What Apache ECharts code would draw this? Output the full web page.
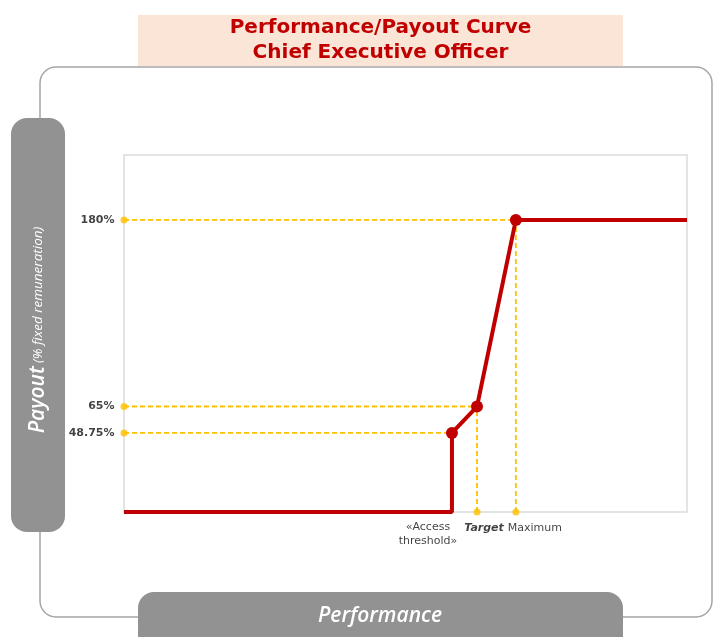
<!DOCTYPE html>
<html>
<head>
<meta charset="utf-8">
<script src="https://cdn.jsdelivr.net/npm/echarts@6/dist/echarts.min.js"></script>
<style>
  html, body { margin: 0; padding: 0; background: #fff; }
  #chart { width: 713px; height: 637px; }
</style>
</head>
<body>
<div id="chart"></div>
<script>
// Payout curve: performance (0-100 scale) against payout (% of fixed remuneration)
const perfPoints   = [0, 58.25, 58.25, 62.7, 69.6, 100];
const payoutPoints = [0, 0, 48.75, 65, 180, 180];
// Points on the curve that get a marker (index into the arrays above)
const keyPointIdx = [2, 3, 4];

// Payout levels labelled on the vertical axis
const payoutLevels = [180, 65, 48.75];
const payoutLabels = ['180%', '65%', '48.75%'];
// Performance at which each payout level is reached
const levelPerf = [69.6, 62.7, 58.25];

// Performance milestones labelled under the horizontal axis
const milestoneNames = ['«Access\nthreshold»', 'Target', 'Maximum'];
const milestonePerf  = [58.25, 62.7, 69.6];
const milestonePayout = [48.75, 65, 180];

const RED = '#c00000';
const GOLD = '#ffc000';
const PILL = '#929292';

const chart = echarts.init(document.getElementById('chart'), null, { renderer: 'canvas' });

const curveData = perfPoints.map((x, i) => {
  const marked = keyPointIdx.includes(i);
  return { value: [x, payoutPoints[i]], symbol: marked ? 'circle' : 'none', symbolSize: marked ? 12 : 0 };
});

const dashStyle = { color: GOLD, width: 1.8, type: [5, 3] };

// Horizontal guides from the axis to the curve
const hGuides = payoutLevels.map((v, i) => ({
  type: 'line', silent: true, z: 3, symbol: 'none',
  lineStyle: dashStyle,
  data: [[0, v], [levelPerf[i], v]]
}));

// Vertical guides from the curve down to the axis (target and maximum)
const vGuides = milestonePerf.slice(1).map((x, i) => ({
  type: 'line', silent: true, z: 3, symbol: 'none',
  lineStyle: dashStyle,
  data: [[x, 0], [x, milestonePayout[i + 1]]]
}));

// Label placement for the milestone names
const milestoneLabelStyle = [
  { offset: [-24, 2], fontStyle: 'normal', fontWeight: 'normal' },
  { offset: [7, 0], fontStyle: 'italic', fontWeight: 'bold' },
  { offset: [19, 0], fontStyle: 'normal', fontWeight: 'normal' }
];

const option = {
  animation: false,
  backgroundColor: '#fff',
  grid: {
    left: 124, right: 26, top: 155, bottom: 125,
    show: true, borderColor: '#dcdcdc', borderWidth: 1.5, backgroundColor: 'transparent'
  },
  xAxis: {
    type: 'value', min: 0, max: 100,
    axisLine: { show: false }, axisTick: { show: false },
    axisLabel: { show: false }, splitLine: { show: false }
  },
  yAxis: {
    type: 'value', min: 0, max: 220,
    axisLine: { show: false }, axisTick: { show: false },
    axisLabel: { show: false }, splitLine: { show: false }
  },
  graphic: [
    {
      type: 'rect', z: -10,
      shape: { x: 40, y: 67, width: 672, height: 550, r: 16 },
      style: { fill: 'transparent', stroke: '#a6a6a6', lineWidth: 1.5 }
    },
    {
      type: 'rect', z: -5,
      shape: { x: 138, y: 15, width: 485, height: 51 },
      style: { fill: '#fbe5d6' }
    },
    {
      type: 'text', z: -4, x: 380.5, y: 40,
      style: {
        text: 'Performance/Payout Curve\nChief Executive Officer',
        align: 'center', verticalAlign: 'middle',
        fill: RED, font: 'bold 20px "DejaVu Sans"', lineHeight: 25
      }
    },
    {
      type: 'rect', z: -5,
      shape: { x: 11, y: 118, width: 54, height: 414, r: 16 },
      style: { fill: PILL }
    },
    {
      type: 'text', z: -4, x: 38, y: 330, rotation: Math.PI / 2,
      style: {
        text: '{a|Payout} {b|(% fixed remuneration)}',
        align: 'center', verticalAlign: 'middle',
        rich: {
          a: { fill: '#fff', fontFamily: 'Open Sans', fontStyle: 'italic', fontWeight: 600, fontSize: 21 },
          b: { fill: '#fff', fontFamily: 'Open Sans', fontStyle: 'italic', fontSize: 13.5 }
        }
      }
    },
    {
      type: 'rect', z: -5,
      shape: { x: 138, y: 592, width: 485, height: 70, r: 16 },
      style: { fill: PILL }
    },
    {
      type: 'text', z: -4, x: 380, y: 616,
      style: {
        text: 'Performance', align: 'center', verticalAlign: 'middle',
        fill: '#fff', font: 'italic 600 21px "Open Sans"'
      }
    }
  ],
  series: [
    ...hGuides,
    ...vGuides,
    {
      // payout levels: dots on the vertical axis with their labels
      type: 'scatter', z: 4, silent: true,
      symbolSize: 7,
      itemStyle: { color: GOLD },
      data: payoutLevels.map((v, i) => ({
        value: [0, v],
        label: {
          show: true, position: 'left', distance: 6,
          formatter: payoutLabels[i],
          color: '#111', fontFamily: 'DejaVu Sans', fontWeight: 'bold', fontSize: 11
        }
      }))
    },
    {
      // performance milestones on the horizontal axis
      type: 'scatter', z: 4, silent: true,
      itemStyle: { color: GOLD },
      data: milestonePerf.map((x, i) => ({
        value: [x, 0],
        symbolSize: i === 0 ? 0 : 7,
        label: {
          show: true, position: 'bottom', distance: 6,
          formatter: milestoneNames[i],
          offset: milestoneLabelStyle[i].offset,
          align: 'center',
          color: '#111', fontFamily: 'DejaVu Sans', fontSize: 11,
          fontStyle: milestoneLabelStyle[i].fontStyle,
          fontWeight: milestoneLabelStyle[i].fontWeight,
          lineHeight: 14
        }
      }))
    },
    {
      type: 'line', z: 5, silent: true,
      showSymbol: true,
      lineStyle: { color: RED, width: 4 },
      itemStyle: { color: RED },
      data: curveData
    }
  ]
};

chart.setOption(option);
</script>
</body>
</html>
